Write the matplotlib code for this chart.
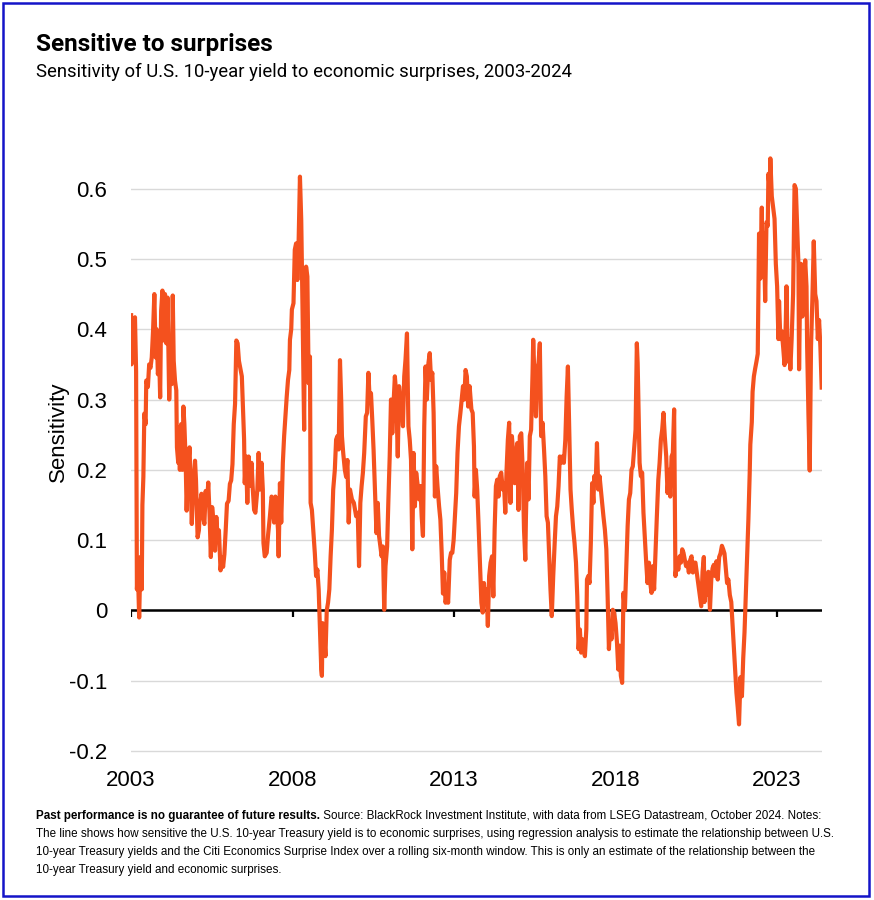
import numpy as np
import matplotlib
matplotlib.use('Agg')
import matplotlib.pyplot as plt
from matplotlib.patches import Rectangle

# values (decimal year, sensitivity)
years_2003 = [2003.00, 2003.01, 2003.03, 2003.05, 2003.12, 2003.155, 2003.18, 2003.21, 2003.25, 2003.29,
              2003.33, 2003.35, 2003.38, 2003.41, 2003.45, 2003.47, 2003.52, 2003.56, 2003.60, 2003.64,
              2003.68, 2003.72, 2003.76, 2003.79, 2003.83, 2003.87, 2003.90, 2003.93, 2003.97, 2004.01,
              2004.05, 2004.09, 2004.13, 2004.18, 2004.22, 2004.26, 2004.29, 2004.32, 2004.36, 2004.40,
              2004.42, 2004.46, 2004.48, 2004.51, 2004.55, 2004.59, 2004.62, 2004.65, 2004.69, 2004.72,
              2004.76, 2004.81, 2004.84, 2004.88, 2004.92, 2004.98, 2005.01, 2005.06, 2005.10, 2005.14,
              2005.18, 2005.23, 2005.27, 2005.31, 2005.35, 2005.39, 2005.43, 2005.47, 2005.51, 2005.56,
              2005.60, 2005.64, 2005.68, 2005.72, 2005.77, 2005.81, 2005.85, 2005.89, 2005.93, 2005.97,
              2006.02, 2006.06, 2006.10, 2006.14, 2006.18, 2006.22, 2006.26, 2006.30, 2006.34]
vals_2003 = [0.42, 0.35, 0.415, 0.36, 0.417, 0.34, 0.03, 0.057, -0.01, 0.076,
             0.03, 0.15, 0.19, 0.28, 0.265, 0.327, 0.318, 0.35, 0.345, 0.36,
             0.398, 0.45, 0.36, 0.40, 0.336, 0.36, 0.303, 0.426, 0.455, 0.384,
             0.45, 0.38, 0.445, 0.30, 0.36, 0.322, 0.448, 0.355, 0.327, 0.313,
             0.232, 0.21, 0.26, 0.20, 0.265, 0.20, 0.29, 0.265, 0.213, 0.142,
             0.20, 0.232, 0.185, 0.123, 0.175, 0.213, 0.185, 0.104, 0.114, 0.152,
             0.166, 0.133, 0.123, 0.17, 0.152, 0.182, 0.137, 0.076, 0.147, 0.123,
             0.085, 0.133, 0.104, 0.114, 0.057, 0.076, 0.062, 0.08, 0.114, 0.152,
             0.156, 0.18, 0.185, 0.208, 0.265, 0.294, 0.384, 0.38, 0.355]

years_2006 = [2006.43, 2006.46, 2006.50, 2006.52, 2006.56, 2006.60, 2006.64, 2006.68, 2006.73, 2006.77,
              2006.81, 2006.85, 2006.91, 2006.95, 2006.99, 2007.04, 2007.08, 2007.10, 2007.14, 2007.20,
              2007.24, 2007.30, 2007.35, 2007.39, 2007.43, 2007.47, 2007.51, 2007.55, 2007.57, 2007.61,
              2007.65, 2007.70, 2007.74, 2007.78, 2007.82, 2007.86, 2007.90, 2007.92, 2007.96, 2007.98,
              2008.03, 2008.07, 2008.11, 2008.15, 2008.19, 2008.23, 2008.27, 2008.31, 2008.36, 2008.38,
              2008.42, 2008.46, 2008.50, 2008.54, 2008.56, 2008.60, 2008.65, 2008.69, 2008.73, 2008.77,
              2008.81, 2008.85, 2008.89, 2008.91, 2008.93, 2008.98, 2009.02, 2009.06, 2009.10, 2009.14,
              2009.18, 2009.22, 2009.26, 2009.31, 2009.35, 2009.39, 2009.43, 2009.47, 2009.51, 2009.53,
              2009.57, 2009.62, 2009.66, 2009.70, 2009.74, 2009.78, 2009.84, 2009.90, 2009.97]
vals_2006 = [0.333, 0.295, 0.243, 0.181, 0.219, 0.153, 0.219, 0.177, 0.21, 0.172,
             0.143, 0.139, 0.172, 0.224, 0.172, 0.21, 0.172, 0.096, 0.077, 0.082,
             0.106, 0.134, 0.162, 0.158, 0.125, 0.162, 0.143, 0.115, 0.077, 0.181,
             0.125, 0.21, 0.248, 0.276, 0.304, 0.328, 0.342, 0.385, 0.40, 0.428,
             0.437, 0.513, 0.522, 0.47, 0.527, 0.617, 0.555, 0.428, 0.257, 0.428,
             0.489, 0.475, 0.323, 0.361, 0.153, 0.143, 0.11, 0.082, 0.049, 0.058,
             0.03, -0.027, -0.084, -0.093, -0.018, -0.036, -0.065, 0.0, 0.011, 0.03,
             0.077, 0.115, 0.172, 0.20, 0.243, 0.248, 0.229, 0.356, 0.295, 0.248,
             0.224, 0.20, 0.19, 0.214, 0.125, 0.172, 0.158, 0.153, 0.134]

years_2010 = [2010.02, 2010.06, 2010.10, 2010.14, 2010.18, 2010.22, 2010.27, 2010.31, 2010.35, 2010.39,
              2010.43, 2010.47, 2010.51, 2010.55, 2010.60, 2010.64, 2010.68, 2010.72, 2010.76, 2010.80,
              2010.84, 2010.88, 2010.93, 2010.97, 2011.01, 2011.05, 2011.09, 2011.13, 2011.17, 2011.21,
              2011.26, 2011.30, 2011.34, 2011.38, 2011.42, 2011.46, 2011.50, 2011.545, 2011.59, 2011.63,
              2011.67, 2011.71, 2011.75, 2011.79, 2011.83, 2011.88, 2011.92, 2011.96, 2012.00, 2012.04,
              2012.08, 2012.12, 2012.16, 2012.21, 2012.25, 2012.29, 2012.33, 2012.37, 2012.41, 2012.45,
              2012.49, 2012.54, 2012.58, 2012.62, 2012.66, 2012.70, 2012.74, 2012.78, 2012.82, 2012.87,
              2012.91, 2012.95, 2012.99, 2013.03, 2013.07, 2013.11, 2013.155, 2013.20, 2013.24, 2013.28,
              2013.32, 2013.36, 2013.40, 2013.44, 2013.485]
vals_2010 = [0.139, 0.063, 0.153, 0.177, 0.196, 0.224, 0.276, 0.281, 0.338, 0.30,
             0.309, 0.271, 0.229, 0.177, 0.11, 0.153, 0.106, 0.091, 0.077, 0.091,
             0.001, 0.063, 0.091, 0.158, 0.219, 0.30, 0.252, 0.295, 0.333, 0.309,
             0.219, 0.319, 0.30, 0.29, 0.262, 0.333, 0.357, 0.394, 0.262, 0.243,
             0.214, 0.087, 0.224, 0.148, 0.196, 0.177, 0.158, 0.177, 0.134, 0.106,
             0.262, 0.347, 0.30, 0.352, 0.366, 0.328, 0.338, 0.281, 0.162, 0.205,
             0.177, 0.148, 0.129, 0.082, 0.024, 0.054, 0.011, 0.024, 0.011, 0.072,
             0.082, 0.082, 0.10, 0.134, 0.167, 0.224, 0.262, 0.281, 0.30, 0.319,
             0.30, 0.342, 0.333, 0.29, 0.319]

years_2013 = [2013.54, 2013.58, 2013.62, 2013.64, 2013.68, 2013.72, 2013.76, 2013.805, 2013.85, 2013.89,
              2013.93, 2013.97, 2014.01, 2014.05, 2014.09, 2014.135, 2014.18, 2014.22, 2014.26, 2014.30,
              2014.34, 2014.38, 2014.42, 2014.465, 2014.51, 2014.55, 2014.59, 2014.63, 2014.67, 2014.71,
              2014.75, 2014.795, 2014.84, 2014.88, 2014.92, 2014.96, 2015.00, 2015.04, 2015.085, 2015.13,
              2015.17, 2015.21, 2015.23, 2015.27, 2015.31, 2015.35, 2015.39, 2015.435, 2015.455, 2015.50,
              2015.54, 2015.58, 2015.62, 2015.66, 2015.70, 2015.745, 2015.79, 2015.83, 2015.87, 2015.91,
              2015.95, 2015.99, 2016.03, 2016.075, 2016.12, 2016.16, 2016.20, 2016.24, 2016.28, 2016.32,
              2016.36, 2016.405, 2016.45, 2016.49, 2016.53, 2016.57, 2016.61, 2016.65, 2016.695, 2016.735,
              2016.78, 2016.82, 2016.86, 2016.90, 2016.94, 2016.98]
vals_2013 = [0.286, 0.281, 0.233, 0.162, 0.20, 0.172, 0.125, 0.068, 0.011, -0.003,
             0.039, 0.011, 0.03, -0.022, 0.049, 0.068, 0.077, 0.02, 0.115, 0.177,
             0.186, 0.162, 0.191, 0.196, 0.172, 0.181, 0.139, 0.20, 0.243, 0.267,
             0.153, 0.248, 0.219, 0.181, 0.219, 0.238, 0.143, 0.248, 0.252, 0.20,
             0.115, 0.072, 0.134, 0.21, 0.158, 0.248, 0.257, 0.338, 0.385, 0.323,
             0.276, 0.342, 0.352, 0.38, 0.248, 0.267, 0.229, 0.191, 0.134, 0.125,
             0.077, 0.03, -0.008, 0.049, 0.096, 0.134, 0.148, 0.177, 0.219, 0.21,
             0.219, 0.21, 0.243, 0.304, 0.347, 0.257, 0.172, 0.143, 0.115, 0.096,
             0.068, 0.02, -0.055, -0.027, -0.06, -0.041]

years_2017 = [2017.056, 2017.10, 2017.12, 2017.16, 2017.20, 2017.24, 2017.28, 2017.32, 2017.345, 2017.39,
              2017.43, 2017.47, 2017.51, 2017.55, 2017.59, 2017.63, 2017.675, 2017.72, 2017.76, 2017.80,
              2017.84, 2017.88, 2017.92, 2017.96, 2018.005, 2018.05, 2018.09, 2018.13, 2018.17, 2018.21,
              2018.25, 2018.295, 2018.335, 2018.38, 2018.42, 2018.46, 2018.50, 2018.54, 2018.58, 2018.625,
              2018.665, 2018.69, 2018.71, 2018.75, 2018.79, 2018.83, 2018.87, 2018.91, 2018.955, 2018.995,
              2019.04, 2019.08, 2019.12, 2019.16, 2019.20, 2019.245, 2019.285, 2019.33, 2019.37, 2019.41,
              2019.45, 2019.49, 2019.53, 2019.575, 2019.615, 2019.66, 2019.70, 2019.74, 2019.78, 2019.82,
              2019.86, 2019.905, 2019.95, 2019.99, 2020.03, 2020.07, 2020.11, 2020.15, 2020.19, 2020.235,
              2020.275, 2020.32, 2020.36, 2020.40, 2020.44, 2020.48, 2020.52, 2020.565]
vals_2017 = [-0.065, -0.027, 0.044, 0.049, 0.039, 0.096, 0.181, 0.153, 0.191, 0.181,
             0.238, 0.172, 0.191, 0.172, 0.153, 0.134, 0.115, 0.087, 0.02, -0.055,
             -0.018, -0.041, 0.001, -0.003, -0.018, -0.046, -0.084, -0.05, -0.093, -0.103,
             0.025, 0.001, 0.058, 0.12, 0.158, 0.167, 0.20, 0.205, 0.229, 0.257,
             0.38, 0.352, 0.304, 0.21, 0.191, 0.196, 0.139, 0.106, 0.068, 0.039,
             0.068, 0.039, 0.025, 0.063, 0.03, 0.087, 0.134, 0.186, 0.21, 0.243,
             0.257, 0.281, 0.248, 0.219, 0.167, 0.20, 0.162, 0.219, 0.224, 0.286,
             0.049, 0.068, 0.058, 0.077, 0.068, 0.087, 0.082, 0.072, 0.063, 0.068,
             0.054, 0.072, 0.077, 0.054, 0.068, 0.068, 0.054, 0.039]

years_2020 = [2020.66, 2020.70, 2020.74, 2020.76, 2020.80, 2020.84, 2020.88, 2020.93, 2020.97, 2021.01,
              2021.05, 2021.09, 2021.13, 2021.17, 2021.215, 2021.256, 2021.30, 2021.34, 2021.38, 2021.42,
              2021.46, 2021.50, 2021.545, 2021.59, 2021.63, 2021.67, 2021.71, 2021.75, 2021.79, 2021.83,
              2021.875, 2021.92, 2021.96, 2022.00, 2022.04, 2022.08, 2022.12, 2022.16, 2022.18, 2022.226,
              2022.25, 2022.29, 2022.33, 2022.37, 2022.41, 2022.43, 2022.45, 2022.47, 2022.49, 2022.535,
              2022.556, 2022.60, 2022.64, 2022.68, 2022.72, 2022.74, 2022.78, 2022.80, 2022.845, 2022.886,
              2022.93, 2022.97, 2023.01, 2023.05, 2023.07, 2023.11, 2023.155, 2023.196, 2023.24, 2023.28,
              2023.30, 2023.34, 2023.38, 2023.42, 2023.46, 2023.505, 2023.55, 2023.59, 2023.63, 2023.67,
              2023.69, 2023.71, 2023.75, 2023.79, 2023.835, 2023.88, 2023.92, 2023.94, 2023.98, 2024.02,
              2024.06, 2024.10, 2024.145, 2024.19, 2024.23, 2024.27, 2024.31, 2024.35, 2024.39]
vals_2020 = [0.006, 0.055, 0.076, 0.012, 0.044, 0.022, 0.055, 0.001, 0.044, 0.06,
             0.065, 0.049, 0.07, 0.044, 0.076, 0.081, 0.092, 0.087, 0.081, 0.06,
             0.039, 0.044, 0.022, 0.012, -0.02, -0.052, -0.084, -0.117, -0.138, -0.162,
             -0.095, -0.122, -0.068, -0.031, 0.022, 0.076, 0.129, 0.194, 0.236, 0.268,
             0.311, 0.333, 0.344, 0.354, 0.365, 0.45, 0.536, 0.531, 0.472, 0.573,
             0.493, 0.536, 0.44, 0.552, 0.547, 0.621, 0.60, 0.643, 0.589, 0.573,
             0.557, 0.493, 0.461, 0.386, 0.44, 0.386, 0.397, 0.375, 0.349, 0.413,
             0.461, 0.354, 0.386, 0.343, 0.386, 0.45, 0.605, 0.6, 0.547, 0.493,
             0.343, 0.413, 0.493, 0.418, 0.461, 0.498, 0.461, 0.375, 0.279, 0.199,
             0.375, 0.44, 0.525, 0.45, 0.44, 0.386, 0.413, 0.375, 0.317]

xtick_years = [2003, 2008, 2013, 2018, 2023]
ytick_vals = [-0.2, -0.1, 0, 0.1, 0.2, 0.3, 0.4, 0.5, 0.6]
ytick_labels = ['-0.2', '-0.1', '0', '0.1', '0.2', '0.3', '0.4', '0.5', '0.6']

years = np.concatenate([years_2003, years_2006, years_2010, years_2013, years_2017, years_2020])
sens = np.concatenate([vals_2003, vals_2006, vals_2010, vals_2013, vals_2017, vals_2020])

plt.rcParams['font.family'] = ['Liberation Sans', 'DejaVu Sans']

fig = plt.figure(figsize=(8.74, 9), dpi=100)
ax = fig.add_axes([0.150, 0.1600, 0.7905, 0.6773])

ax.plot(years, sens, color='#F4511E', lw=3.0, solid_joinstyle='round', zorder=3)
ax.axhline(0, color='black', lw=1.8, zorder=2)
ax.vlines(xtick_years, -0.009, 0, color='black', lw=1.6, zorder=2)

ax.set_xlim(2003, 2024.4)
ax.set_ylim(-0.207, 0.66)
ax.set_yticks(ytick_vals)
ax.set_yticklabels(ytick_labels)
ax.set_xticks(xtick_years)
ax.set_xticklabels([str(y) for y in xtick_years])
ax.yaxis.grid(True, color='#d9d9d9', lw=1)
ax.set_axisbelow(True)
for s in ax.spines.values():
    s.set_visible(False)
ax.tick_params(axis='both', length=0, labelsize=16, colors='black')
ax.tick_params(axis='y', pad=17)
ax.tick_params(axis='x', pad=10)

fig.text(58/874, 1-432/900, 'Sensitivity', rotation=90, ha='center', va='center', fontsize=16)

fig.text(36/874, 1-45/900, 'Sensitive to surprises', fontsize=17.5, fontweight='bold',
         family=['Roboto', 'DejaVu Sans'], va='center')
fig.text(36/874, 1-72/900, 'Sensitivity of U.S. 10-year yield to economic surprises, 2003-2024',
         fontsize=13.3, family=['Roboto', 'DejaVu Sans'], va='center')

# footnote
foot_font = ['Liberation Sans']
fsz = 8.4
t_bold = fig.text(36/874, 1-819/900, 'Past performance is no guarantee of future results.',
                  fontsize=fsz, fontweight='bold', family=foot_font, va='baseline')
fig.canvas.draw()
bb = t_bold.get_window_extent()
x1 = fig.transFigure.inverted().transform((bb.x1, bb.y0))[0]
fig.text(x1, 1-819/900, ' Source: BlackRock Investment Institute, with data from LSEG Datastream, October 2024. Notes:',
         fontsize=fsz, family=foot_font, va='baseline')
foot_lines = [
    'The line shows how sensitive the U.S. 10-year Treasury yield is to economic surprises, using regression analysis to estimate the relationship between U.S.',
    '10-year Treasury yields and the Citi Economics Surprise Index over a rolling six-month window. This is only an estimate of the relationship between the',
    '10-year Treasury yield and economic surprises.',
]
for i, line in enumerate(foot_lines):
    fig.text(36/874, 1-(837+18*i)/900, line, fontsize=fsz, family=foot_font, va='baseline')

# blue frame around the whole graphic
fig.patches.append(Rectangle((0.0035, 0.0045), 0.991, 0.992, transform=fig.transFigure,
                             fill=False, edgecolor='#1414c8', lw=1.8))

fig.savefig('out.png', dpi=100)
